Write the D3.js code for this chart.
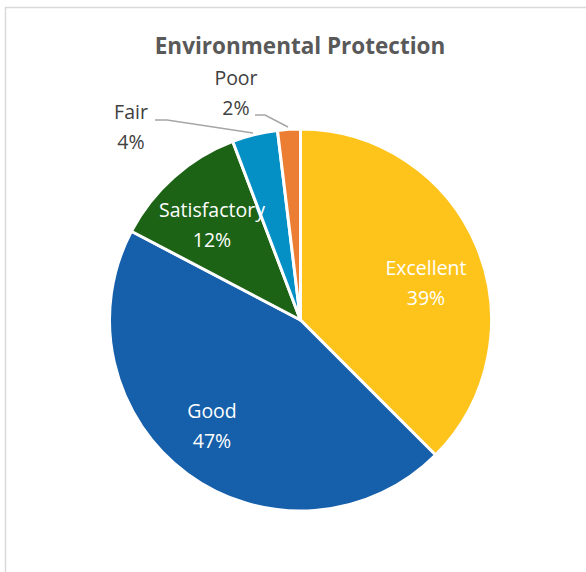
<!DOCTYPE html>
<html>
<head>
<meta charset="utf-8">
<script src="https://cdn.jsdelivr.net/npm/d3@7"></script>
<style>
  body { margin: 0; background: #fff; }
  svg { display: block; }
</style>
</head>
<body>
<div id="chart"></div>
<script>
var width = 586;
var height = 572;

// data
var categories = ["Excellent", "Good", "Satisfactory", "Fair", "Poor"];
var values = [39, 47, 12, 4, 2];
var colors = ["#FEC41B", "#165FAA", "#1D6316", "#048FC5", "#EC7E33"];

var cx = 300.5, cy = 320, radius = 191;

var svg = d3.select("#chart").append("svg")
    .attr("width", width)
    .attr("height", height);

// chart frame
svg.append("rect")
    .attr("x", 5.5).attr("y", 7.5)
    .attr("width", 600).attr("height", 600)
    .attr("fill", "#fff")
    .attr("stroke", "#d9d9d9")
    .attr("stroke-width", 1.5);

svg.append("text")
    .attr("x", 300).attr("y", 54)
    .attr("text-anchor", "middle")
    .attr("font-family", "'Open Sans', 'Noto Sans', sans-serif")
    .attr("font-weight", "bold")
    .attr("font-size", "22.5px")
    .attr("fill", "#595959")
    .text("Environmental Protection");

var pie = d3.pie().sort(null).value(function(d) { return d.value; });
var arc = d3.arc().innerRadius(0).outerRadius(radius);

var data = categories.map(function(c, i) { return {name: c, value: values[i], color: colors[i]}; });
var arcs = pie(data);

var g = svg.append("g").attr("transform", "translate(" + cx + "," + cy + ")");

g.selectAll("path")
    .data(arcs)
    .enter()
    .append("path")
    .attr("d", arc)
    .attr("fill", function(d) { return d.data.color; })
    .attr("stroke", "#fff")
    .attr("stroke-width", 3)
    .attr("stroke-linejoin", "round");

// label positions: inside for big slices, outside for small ones
var labelPos = {
  "Excellent": [426, 275, "#fff"],
  "Good": [212, 418, "#fff"],
  "Satisfactory": [212, 217, "#fff"],
  "Fair": [131, 119, "#404040"],
  "Poor": [236, 85, "#404040"]
};

var labels = svg.selectAll(".lbl")
    .data(arcs)
    .enter()
    .append("text")
    .attr("class", "lbl")
    .attr("text-anchor", "middle")
    .attr("font-family", "'Open Sans', 'Noto Sans', sans-serif")
    .attr("font-size", "19.5px")
    .attr("fill", function(d) { return labelPos[d.data.name][2]; })
    .attr("x", function(d) { return labelPos[d.data.name][0]; })
    .attr("y", function(d) { return labelPos[d.data.name][1]; });

labels.append("tspan")
    .attr("x", function(d) { return labelPos[d.data.name][0]; })
    .text(function(d) { return d.data.name; });
labels.append("tspan")
    .attr("x", function(d) { return labelPos[d.data.name][0]; })
    .attr("dy", 30)
    .text(function(d) { return d.data.value + "%"; });

// leader lines for the outside labels
var leaders = [
  [[155, 120], [167, 120], [253, 133]],
  [[255, 115], [265, 115], [288, 127]]
];
svg.selectAll(".leader")
    .data(leaders)
    .enter()
    .append("path")
    .attr("class", "leader")
    .attr("d", d3.line())
    .attr("fill", "none")
    .attr("stroke", "#a6a6a6")
    .attr("stroke-width", 1.5);
</script>
</body>
</html>
